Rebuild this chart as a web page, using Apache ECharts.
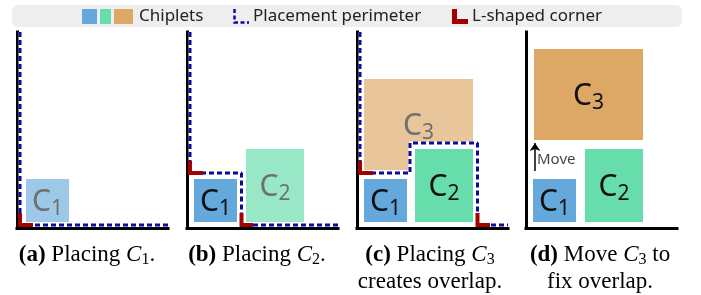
<!DOCTYPE html>
<html>
<head>
<meta charset="utf-8">
<script src="https://cdn.jsdelivr.net/npm/echarts@6/dist/echarts.min.js"></script>
<style>
html, body { margin: 0; padding: 0; background: #fff; }
#chart { width: 701px; height: 295px; }
</style>
</head>
<body>
<div id="chart"></div>
<script>
// every panel uses the same space: x 0..151 right from the wall, y 0..196 up from the floor
const solidColors = ['#64A8DC', '#66DDAA', '#DDA865'];
const ghostColors = ['#9DC8E8', '#98E8C8', '#E8C59B'];

// chiplets: [x0, y0, x1, y1, chiplet no, kind]  kind 0 = placed, 1 = being placed, 2 = area behind perimeter
const chipsA = [[9, 6, 52, 49, 1, 1]];
const chipsB = [[7, 6, 50, 49, 1, 0], [59, 6, 117, 79, 2, 1]];
const chipsC = [[7, 58, 116, 149, 3, 1], [53, 3, 120.5, 85, 0, 2], [7, 6, 50, 49, 1, 0], [58, 6, 116, 79, 2, 0]];
const chipsD = [[8, 88, 117, 179, 3, 0], [7, 6, 50, 49, 1, 0], [59, 6, 117, 79, 2, 0]];

// placement perimeter
const perimA = [[3, 196], [3, 3], [151, 3]];
const perimB = [[3, 196], [3, 55], [54.5, 55], [54.5, 3], [151, 3]];
const perimC = [[3, 196], [3, 55], [53, 55], [53, 85], [120.5, 85], [120.5, 3], [151, 3]];

// L-shaped corners
const cornersA = [[[3, 15], [3, 3], [16, 3]]];
const cornersB = [[[3, 67], [3, 55], [16, 55]], [[54.5, 15], [54.5, 3], [66, 3]]];
const cornersC = [[[3, 67], [3, 55], [16, 55]], [[120.5, 15], [120.5, 3], [133, 3]]];

// C3 move in (d)
const moveArrow = [[9, 57], [9, 85]];
const moveLabelAt = [[10, 68]];

const captions = [
  ['{b|(a)} Placing {i|C}{s|1}.'],
  ['{b|(b)} Placing {i|C}{s|2}.'],
  ['{b|(c)} Placing {i|C}{s|3}', 'creates overlap.'],
  ['{b|(d)} Move {i|C}{s|3} to', 'fix overlap.']
];

const gridLefts = [17, 187, 357, 526];
const capCenters = [87, 257, 430, 600];

const myChart = echarts.init(document.getElementById('chart'), null, { renderer: 'canvas' });

function chipItem(params, api) {
  const lo = api.coord([api.value(0), api.value(1)]);
  const hi = api.coord([api.value(2), api.value(3)]);
  const n = api.value(4);
  const kind = api.value(5);
  const rect = {
    type: 'rect',
    shape: { x: lo[0], y: hi[1], width: hi[0] - lo[0], height: lo[1] - hi[1] },
    style: { fill: kind === 2 ? '#fff' : (kind === 1 ? ghostColors[n - 1] : solidColors[n - 1]) }
  };
  if (kind === 2) return rect;
  const col = kind === 1 ? '#707070' : '#111';
  return {
    type: 'group',
    children: [rect, {
      type: 'text',
      x: (lo[0] + hi[0]) / 2,
      y: (lo[1] + hi[1]) / 2 + 2,
      style: {
        text: '{c|C}{s|' + n + '}',
        align: 'center',
        verticalAlign: 'middle',
        rich: {
          c: { fontFamily: 'Noto Sans', fontSize: 30, fill: col, lineHeight: 34, verticalAlign: 'middle' },
          s: { fontFamily: 'Noto Sans', fontSize: 21, fill: col, lineHeight: 34, padding: [14, 0, 0, 0], verticalAlign: 'middle' }
        }
      }
    }]
  };
}

const chipSets = [chipsA, chipsB, chipsC, chipsD];
const perims = [perimA, perimB, perimC];
const cornerSets = [cornersA, cornersB, cornersC];

let grid = [], xAxis = [], yAxis = [], series = [];
gridLefts.forEach((left, i) => {
  grid.push({ left: left, top: 32, width: 151, height: 196 });
  const axisCommon = {
    type: 'value', gridIndex: i, min: 0,
    axisLine: { show: true, lineStyle: { color: '#000', width: 3, cap: 'square' } },
    axisTick: { show: false }, axisLabel: { show: false }, splitLine: { show: false }
  };
  xAxis.push(Object.assign({ max: 151 }, axisCommon));
  yAxis.push(Object.assign({ max: 196 }, axisCommon));

  series.push({
    type: 'custom', xAxisIndex: i, yAxisIndex: i, silent: true,
    renderItem: chipItem, data: chipSets[i]
  });
  if (perims[i]) {
    series.push({
      type: 'line', xAxisIndex: i, yAxisIndex: i, symbol: 'none', silent: true,
      lineStyle: { color: '#fff', width: 3 }, data: perims[i]
    });
    series.push({
      type: 'line', xAxisIndex: i, yAxisIndex: i, symbol: 'none', silent: true,
      lineStyle: { color: '#0B0B9E', width: 3, type: [5, 3] }, data: perims[i]
    });
    cornerSets[i].forEach(c => {
      series.push({
        type: 'line', xAxisIndex: i, yAxisIndex: i, symbol: 'none', silent: true,
        lineStyle: { color: '#A30000', width: 4, join: 'miter', cap: 'butt' },
        data: c
      });
    });
  }
});

series.push({
  type: 'lines', coordinateSystem: 'cartesian2d', xAxisIndex: 3, yAxisIndex: 3, silent: true,
  symbol: ['none', 'arrow'], symbolSize: 8,
  lineStyle: { color: '#000', width: 1.5, opacity: 1 },
  data: [{ coords: moveArrow }]
});
series.push({
  type: 'scatter', xAxisIndex: 3, yAxisIndex: 3, symbolSize: 0, silent: true,
  label: { show: true, position: 'right', distance: 1, formatter: 'Move', fontFamily: 'Noto Sans', fontSize: 15, color: '#111' },
  data: moveLabelAt
});

// legend strip
const legendFont = '17px "Noto Sans"';
let graphic = [
  { type: 'rect', shape: { x: 12, y: 5, width: 670, height: 22, r: 6 }, style: { fill: '#EEEEEE' } },
  { type: 'rect', shape: { x: 82, y: 9, width: 15, height: 15 }, style: { fill: solidColors[0] } },
  { type: 'rect', shape: { x: 100, y: 9, width: 11, height: 15 }, style: { fill: solidColors[1] } },
  { type: 'rect', shape: { x: 114, y: 9, width: 19, height: 15 }, style: { fill: solidColors[2] } },
  { type: 'text', style: { x: 139, y: 16, text: 'Chiplets', font: legendFont, fill: '#222', verticalAlign: 'middle' } },
  { type: 'polyline', shape: { points: [[234.5, 9], [234.5, 22.5], [249, 22.5]] }, style: { stroke: '#0B0B9E', lineWidth: 2.5, lineDash: [4, 2.5], fill: null } },
  { type: 'text', style: { x: 253, y: 16, text: 'Placement perimeter', font: legendFont, fill: '#222', verticalAlign: 'middle' } },
  { type: 'polyline', shape: { points: [[454.5, 9], [454.5, 21.5], [468, 21.5]] }, style: { stroke: '#A30000', lineWidth: 5, fill: null } },
  { type: 'text', style: { x: 472, y: 16, text: 'L-shaped corner', font: legendFont, fill: '#222', verticalAlign: 'middle' } }
];

const capRich = {
  b: { fontFamily: 'Liberation Serif', fontSize: 23, fontWeight: 'bold', fill: '#000', lineHeight: 26 },
  n: { fontFamily: 'Liberation Serif', fontSize: 23, fill: '#000', lineHeight: 26 },
  i: { fontFamily: 'Liberation Serif', fontSize: 23, fontStyle: 'italic', fill: '#000', lineHeight: 26 },
  s: { fontFamily: 'Liberation Serif', fontSize: 16, fill: '#000', lineHeight: 26, padding: [9, 0, 0, 0] }
};
captions.forEach((lines, i) => {
  lines.forEach((t, j) => {
    graphic.push({
      type: 'text',
      style: {
        x: capCenters[i], y: 255 + j * 27,
        text: t, align: 'center', verticalAlign: 'middle',
        font: '23px "Liberation Serif"', fill: '#000',
        rich: capRich
      }
    });
  });
});

const option = {
  animation: false,
  grid, xAxis, yAxis, series, graphic
};
myChart.setOption(option);
</script>
</body>
</html>
